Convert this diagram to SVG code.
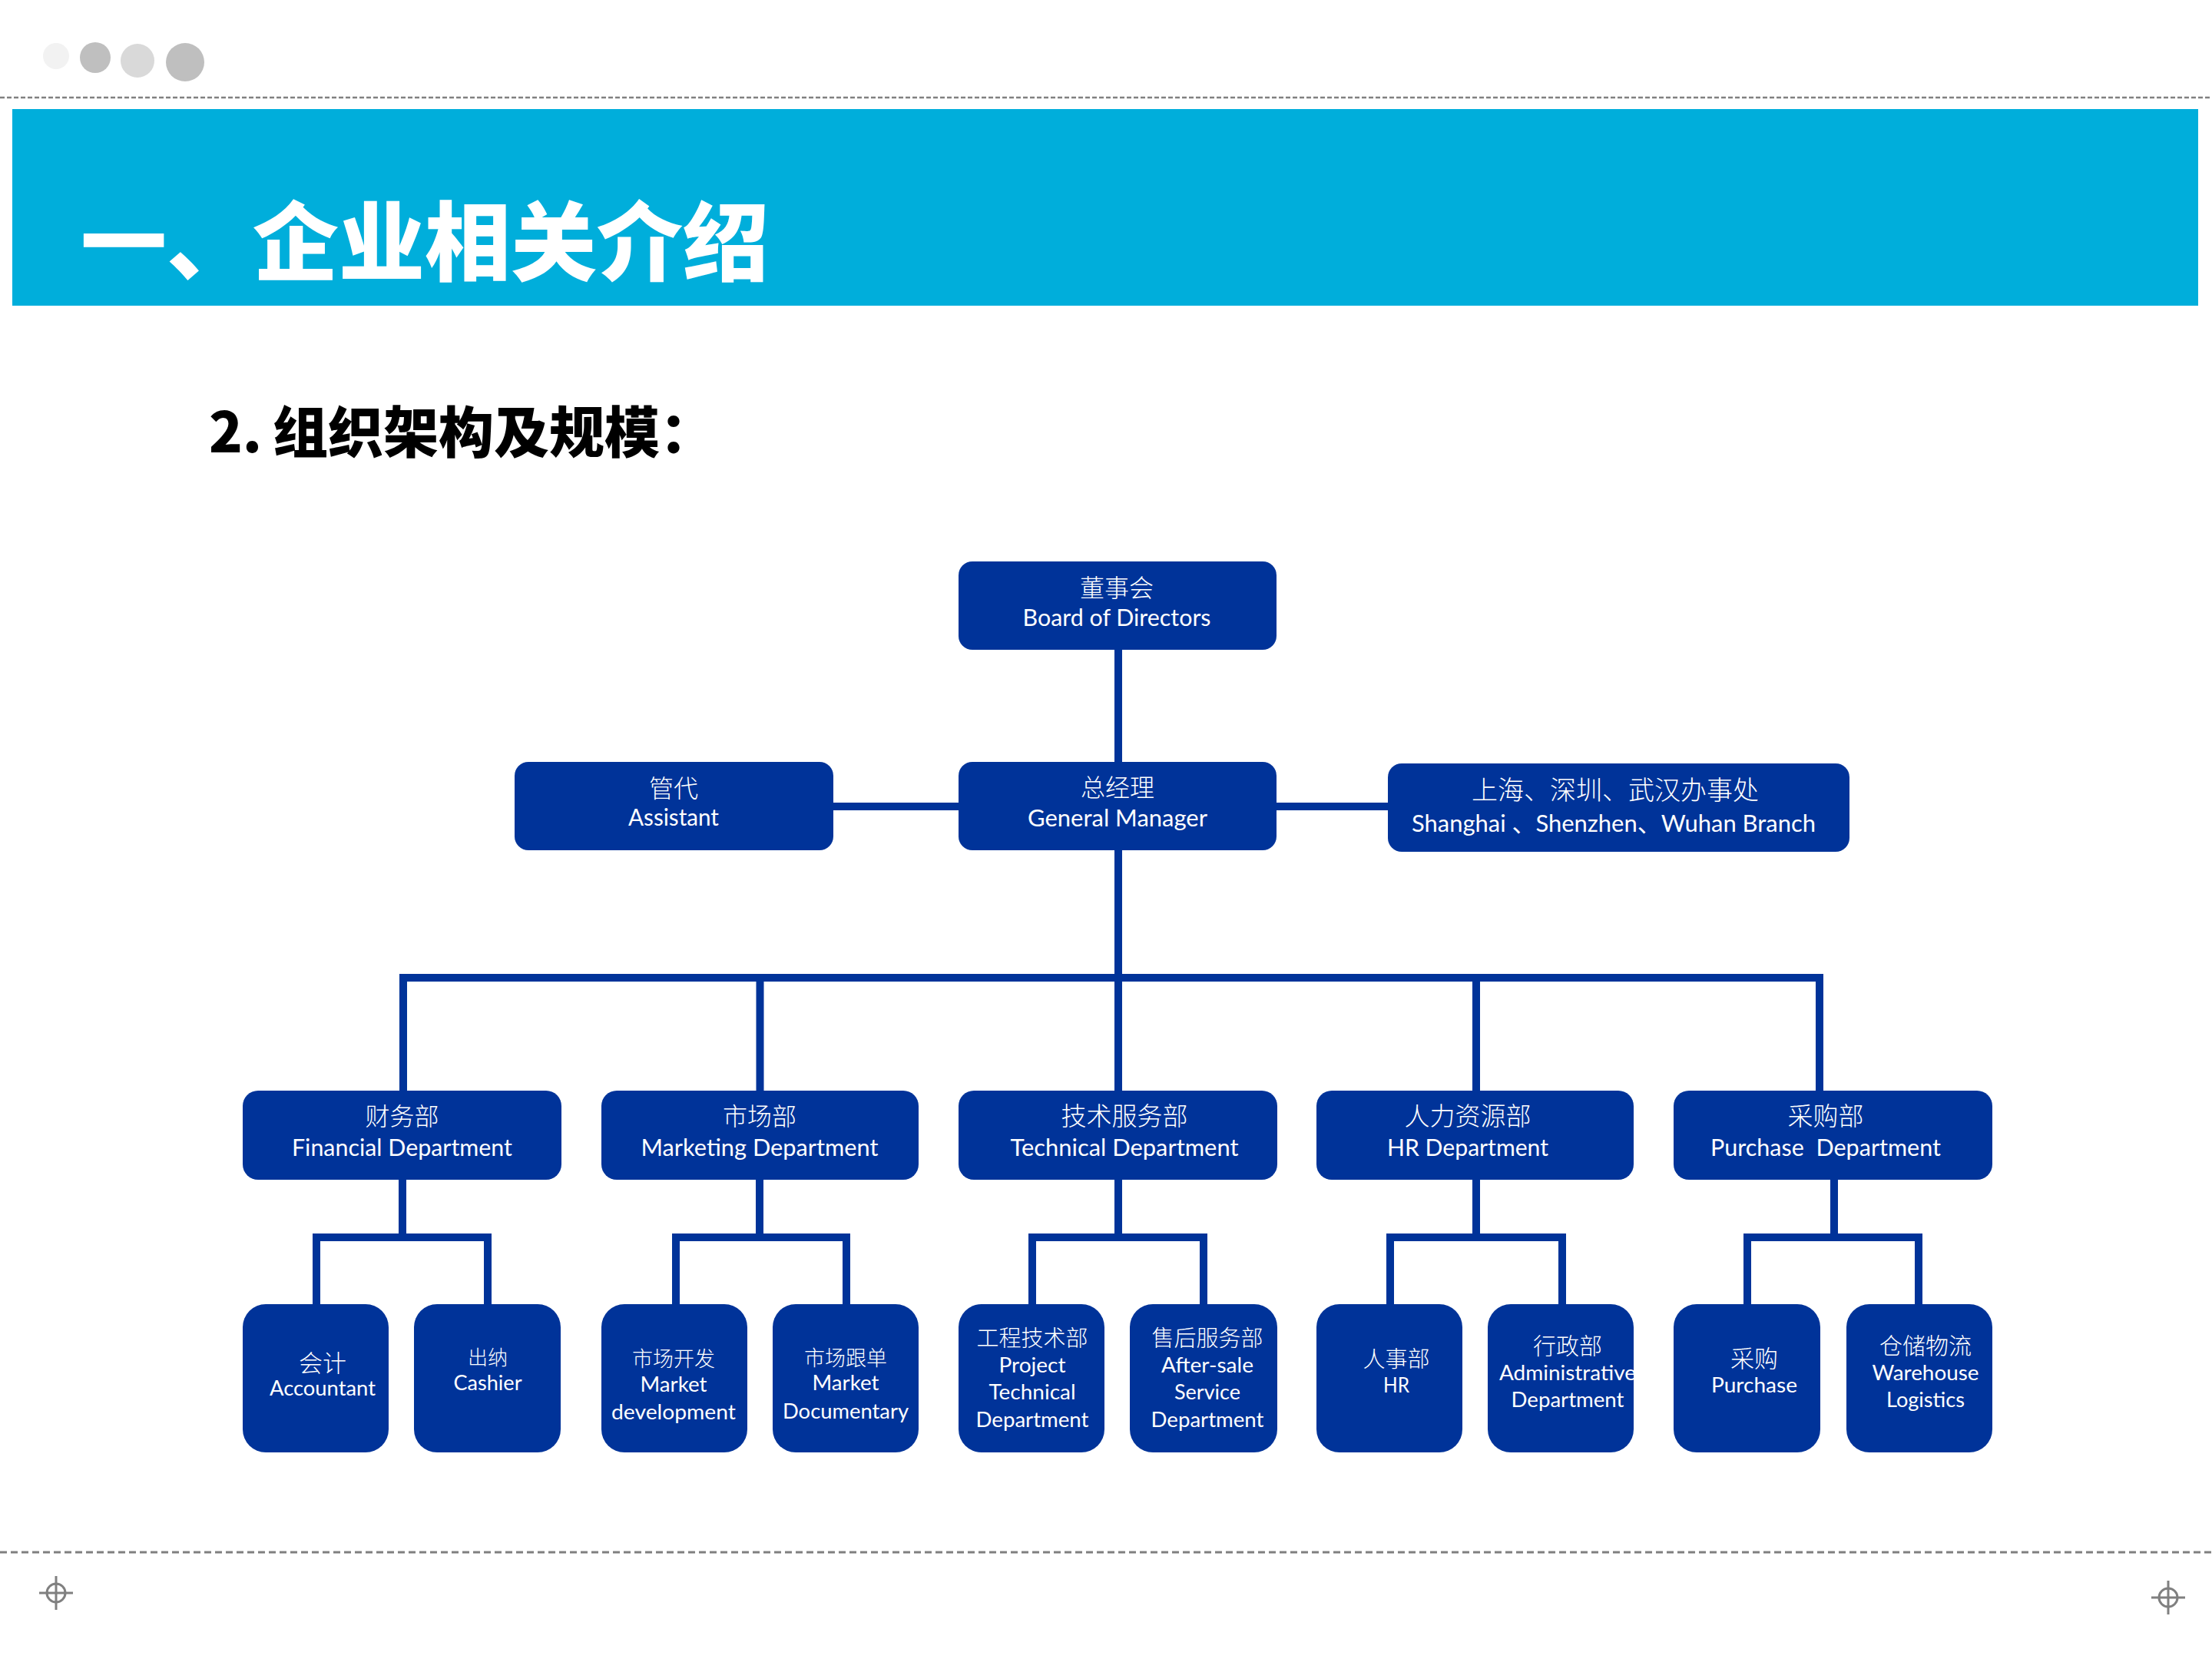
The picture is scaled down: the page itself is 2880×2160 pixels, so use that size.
<svg xmlns="http://www.w3.org/2000/svg" width="2880" height="2160" viewBox="0 0 2880 2160">
<style>
.box{fill:#003399}
.cn{font-family:"Noto Sans CJK SC",sans-serif;font-weight:300;fill:#fff;text-anchor:middle}
.en{font-family:Lato,"Noto Sans","Noto Sans CJK SC",sans-serif;fill:#fff;text-anchor:middle}
.conn path{stroke:#003399;stroke-width:10;fill:none}
.dash{stroke:#808080;fill:none}
.cross{stroke:#808080;stroke-width:3;fill:none}
</style>
<rect width="2880" height="2160" fill="#ffffff"/>
<g id="decor">
<circle cx="73" cy="73" r="17" fill="#f2f2f2"/>
<circle cx="124" cy="75" r="20" fill="#bfbfbf"/>
<circle cx="179" cy="79" r="22" fill="#d9d9d9"/>
<circle cx="241" cy="81" r="25" fill="#bfbfbf"/>
<line class="dash" x1="0" y1="127" x2="2880" y2="127" stroke-width="2.5" stroke-dasharray="6 3"/>
<line class="dash" x1="0" y1="2021" x2="2880" y2="2021" stroke-width="3" stroke-dasharray="9 5"/>
<g class="cross"><circle cx="73" cy="2074" r="12"/><path d="M51 2074H95M73 2052V2096"/></g>
<g class="cross"><circle cx="2823" cy="2080" r="12"/><path d="M2801 2080H2845M2823 2058V2102"/></g>
</g>
<g id="header">
<rect x="16" y="142" width="2846" height="256" fill="#00AEDB"/>
<text x="105" y="357" font-family="'Noto Sans CJK SC',sans-serif" font-weight="900" font-size="112" fill="#fff">一、企业相关介绍</text>
</g>
<text id="subtitle" x="272" y="589" font-family="'Noto Sans CJK SC',sans-serif" font-weight="900" font-size="72" fill="#000"><tspan>2. </tspan><tspan x="355">组织架构及规模：</tspan></text>
<g class="conn" id="connectors">
<path d="M1456 846V992"/>
<path d="M1085 1050H1248"/>
<path d="M1662 1050H1807"/>
<path d="M1456 1107V1273"/>
<path d="M525 1420V1273H2369V1420"/>
<path d="M989.5 1273V1420"/>
<path d="M1456 1273V1420"/>
<path d="M1922 1273V1420"/>
<path d="M524 1536V1611"/><path d="M412 1698V1611H635V1698"/>
<path d="M989 1536V1611"/><path d="M880 1698V1611H1102V1698"/>
<path d="M1456 1536V1611"/><path d="M1344 1698V1611H1567V1698"/>
<path d="M1922 1536V1611"/><path d="M1810 1698V1611H2034V1698"/>
<path d="M2388 1536V1611"/><path d="M2275 1698V1611H2498V1698"/>
</g>
<g id="board"><rect class="box" x="1248" y="731" width="414" height="115" rx="18"/>
<text class="cn" x="1454" y="777" font-size="32">董事会</text>
<text class="en" x="1454" y="815" font-size="30" textLength="245" lengthAdjust="spacingAndGlyphs">Board of Directors</text></g>
<g id="gm"><rect class="box" x="1248" y="992" width="414" height="115" rx="18"/>
<text class="cn" x="1455" y="1037" font-size="32">总经理</text>
<text class="en" x="1455" y="1076" font-size="30" textLength="234" lengthAdjust="spacingAndGlyphs">General Manager</text></g>
<g id="assistant"><rect class="box" x="670" y="992" width="415" height="115" rx="18"/>
<text class="cn" x="877" y="1038" font-size="32">管代</text>
<text class="en" x="877" y="1075" font-size="30" textLength="118" lengthAdjust="spacingAndGlyphs">Assistant</text></g>
<g id="branch"><rect class="box" x="1807" y="994" width="601" height="115" rx="18"/>
<text class="cn" x="2103" y="1041" font-size="34">上海、深圳、武汉办事处</text>
<text class="en" x="2101" y="1083" font-size="30" textLength="526" lengthAdjust="spacingAndGlyphs">Shanghai 、Shenzhen、Wuhan Branch</text></g>
<g id="fin"><rect class="box" x="316" y="1420" width="415" height="116" rx="20"/>
<text class="cn" x="523.5" y="1465" font-size="32">财务部</text>
<text class="en" x="523.5" y="1505" font-size="30" textLength="287" lengthAdjust="spacingAndGlyphs">Financial Department</text></g>
<g id="mkt"><rect class="box" x="783" y="1420" width="413" height="116" rx="20"/>
<text class="cn" x="989" y="1465" font-size="32">市场部</text>
<text class="en" x="989" y="1505" font-size="30" textLength="309" lengthAdjust="spacingAndGlyphs">Marketing Department</text></g>
<g id="tech"><rect class="box" x="1248" y="1420" width="415" height="116" rx="20"/>
<text class="cn" x="1464" y="1465" font-size="33">技术服务部</text>
<text class="en" x="1464" y="1505" font-size="30" textLength="297" lengthAdjust="spacingAndGlyphs">Technical Department</text></g>
<g id="hr"><rect class="box" x="1714" y="1420" width="413" height="116" rx="20"/>
<text class="cn" x="1911" y="1465" font-size="33">人力资源部</text>
<text class="en" x="1911" y="1505" font-size="30" textLength="210" lengthAdjust="spacingAndGlyphs">HR Department</text></g>
<g id="pur"><rect class="box" x="2179" y="1420" width="415" height="116" rx="20"/>
<text class="cn" x="2377" y="1465" font-size="33">采购部</text>
<text class="en" x="2377" y="1505" font-size="30" textLength="300" lengthAdjust="spacingAndGlyphs" xml:space="preserve">Purchase  Department</text></g>
<g id="acc"><rect class="box" x="316" y="1698" width="190" height="193" rx="30"/>
<text class="cn" x="420" y="1786" font-size="31">会计</text>
<text class="en" x="420" y="1817" font-size="27" textLength="138" lengthAdjust="spacingAndGlyphs">Accountant</text></g>
<g id="cash"><rect class="box" x="539" y="1698" width="191" height="193" rx="30"/>
<text class="cn" x="635" y="1777" font-size="26">出纳</text>
<text class="en" x="635" y="1810" font-size="27" textLength="89" lengthAdjust="spacingAndGlyphs">Cashier</text></g>
<g id="mdev"><rect class="box" x="783" y="1698" width="190" height="193" rx="30"/>
<text class="cn" x="877" y="1779" font-size="27">市场开发</text>
<text class="en" x="877" y="1812" font-size="27" textLength="87" lengthAdjust="spacingAndGlyphs">Market</text>
<text class="en" x="877" y="1848" font-size="27" textLength="162" lengthAdjust="spacingAndGlyphs">development</text></g>
<g id="mdoc"><rect class="box" x="1006" y="1698" width="190" height="193" rx="30"/>
<text class="cn" x="1101" y="1778" font-size="27">市场跟单</text>
<text class="en" x="1101" y="1810" font-size="27" textLength="87" lengthAdjust="spacingAndGlyphs">Market</text>
<text class="en" x="1101" y="1847" font-size="27" textLength="164" lengthAdjust="spacingAndGlyphs">Documentary</text></g>
<g id="proj"><rect class="box" x="1248" y="1698" width="190" height="193" rx="30"/>
<text class="cn" x="1344" y="1753" font-size="29">工程技术部</text>
<text class="en" x="1344" y="1787" font-size="27" textLength="87" lengthAdjust="spacingAndGlyphs">Project</text>
<text class="en" x="1344" y="1822" font-size="27" textLength="113" lengthAdjust="spacingAndGlyphs">Technical</text>
<text class="en" x="1344" y="1858" font-size="27" textLength="147" lengthAdjust="spacingAndGlyphs">Department</text></g>
<g id="after"><rect class="box" x="1471" y="1698" width="192" height="193" rx="30"/>
<text class="cn" x="1572" y="1753" font-size="29">售后服务部</text>
<text class="en" x="1572" y="1787" font-size="27" textLength="120" lengthAdjust="spacingAndGlyphs">After-sale</text>
<text class="en" x="1572" y="1822" font-size="27" textLength="86" lengthAdjust="spacingAndGlyphs">Service</text>
<text class="en" x="1572" y="1858" font-size="27" textLength="147" lengthAdjust="spacingAndGlyphs">Department</text></g>
<g id="hrs"><rect class="box" x="1714" y="1698" width="190" height="193" rx="30"/>
<text class="cn" x="1818" y="1780" font-size="29">人事部</text>
<text class="en" x="1818" y="1813" font-size="27" textLength="34" lengthAdjust="spacingAndGlyphs">HR</text></g>
<g id="adm"><rect class="box" x="1937" y="1698" width="190" height="193" rx="30"/>
<text class="cn" x="2041" y="1763" font-size="30">行政部</text>
<text class="en" x="2041" y="1797" font-size="27" textLength="178" lengthAdjust="spacingAndGlyphs">Administrative</text>
<text class="en" x="2041" y="1832" font-size="27" textLength="147" lengthAdjust="spacingAndGlyphs">Department</text></g>
<g id="purch"><rect class="box" x="2179" y="1698" width="191" height="193" rx="30"/>
<text class="cn" x="2284" y="1780" font-size="31">采购</text>
<text class="en" x="2284" y="1813" font-size="27" textLength="112" lengthAdjust="spacingAndGlyphs">Purchase</text></g>
<g id="ware"><rect class="box" x="2404" y="1698" width="190" height="193" rx="30"/>
<text class="cn" x="2507" y="1763" font-size="30">仓储物流</text>
<text class="en" x="2507" y="1797" font-size="27" textLength="139" lengthAdjust="spacingAndGlyphs">Warehouse</text>
<text class="en" x="2507" y="1832" font-size="27" textLength="102" lengthAdjust="spacingAndGlyphs">Logistics</text></g>
</svg>
